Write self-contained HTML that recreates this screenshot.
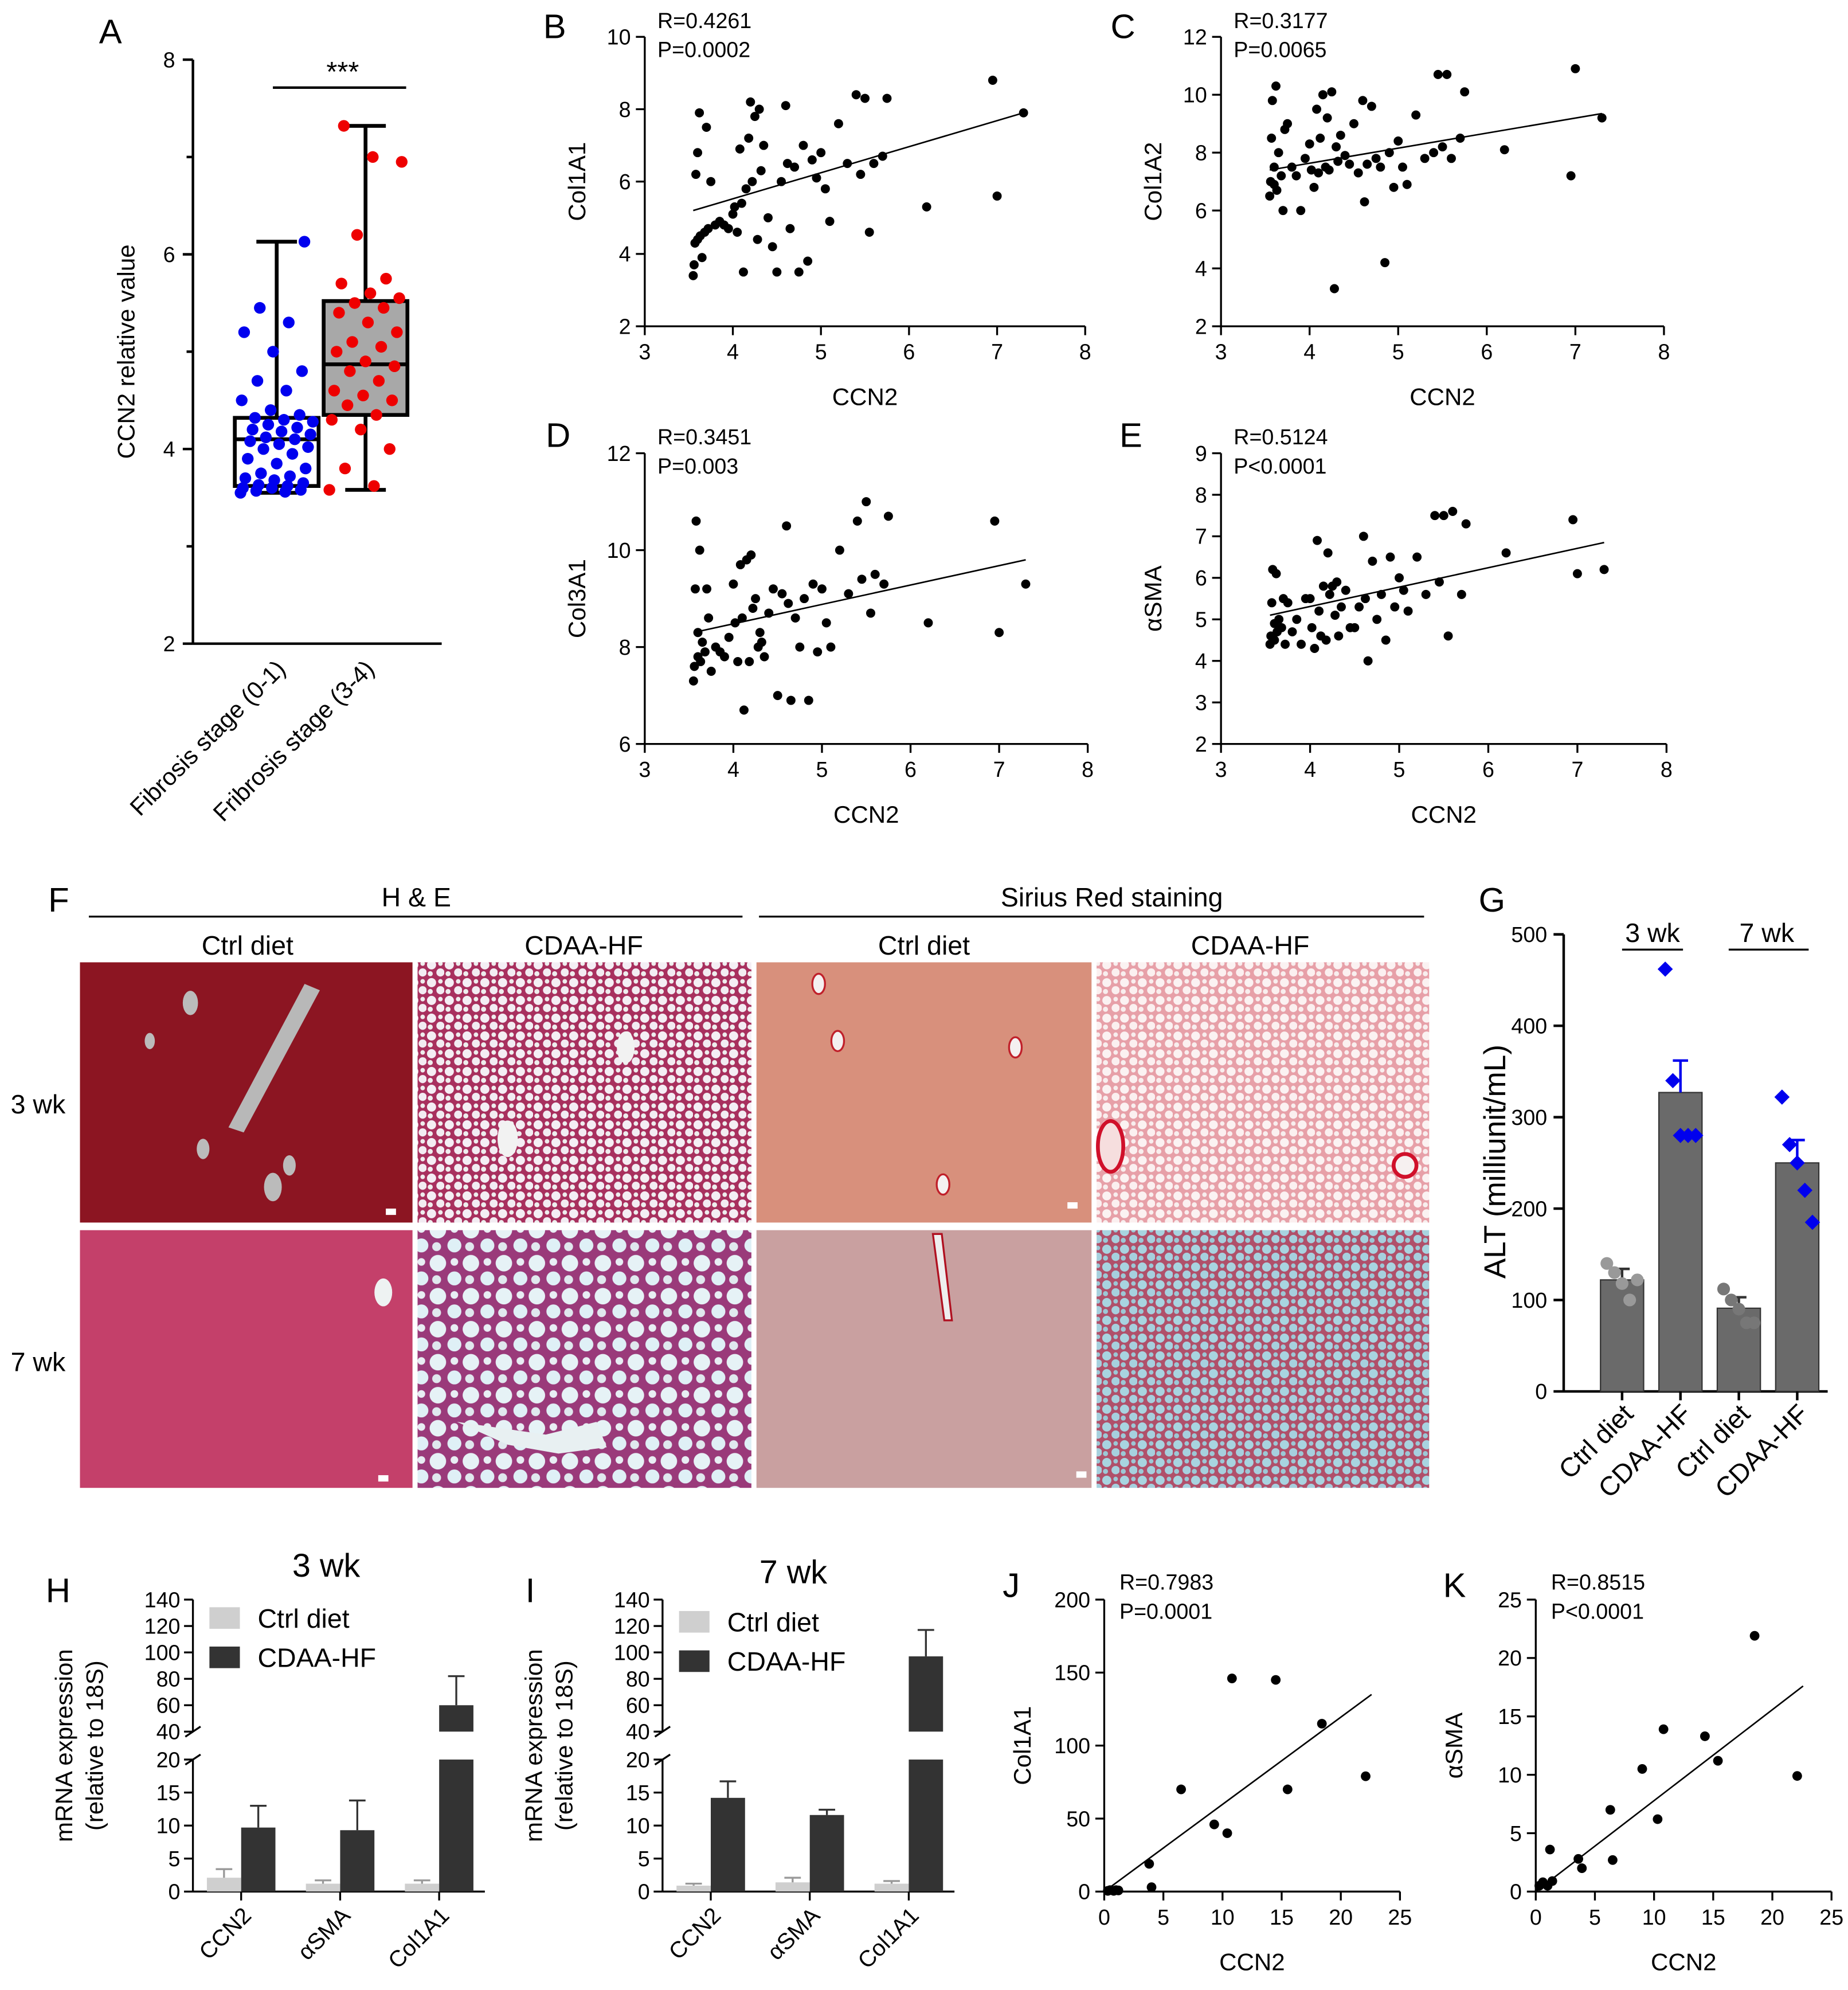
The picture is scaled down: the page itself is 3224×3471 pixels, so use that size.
<!DOCTYPE html>
<html><head><meta charset="utf-8"><style>
html,body{margin:0;padding:0;background:#fff}
svg{display:block;font-family:"Liberation Sans",Arial,sans-serif}
</style></head><body>
<svg id="fig" xmlns="http://www.w3.org/2000/svg" width="3224" height="3471" viewBox="0 0 1456 1567.5">
<defs>
<pattern id="fatA" width="14" height="14" patternUnits="userSpaceOnUse"><rect width="14" height="14" fill="#a8305e"/><circle cx="4" cy="4" r="3.6" fill="#f4eef4"/><circle cx="11" cy="10" r="3.2" fill="#f2ecf2"/><circle cx="11" cy="3" r="1.8" fill="#eee"/><circle cx="3" cy="11" r="2" fill="#eee"/></pattern>
<pattern id="fatB" width="14" height="14" patternUnits="userSpaceOnUse"><rect width="14" height="14" fill="#e7a0a8"/><circle cx="4" cy="4" r="3.5" fill="#fbf2f2"/><circle cx="11" cy="10" r="3.2" fill="#fbf0f0"/><circle cx="11" cy="3" r="1.8" fill="#f8eeee"/><circle cx="3" cy="11" r="2" fill="#f8eeee"/></pattern>
<pattern id="fatC" width="26" height="26" patternUnits="userSpaceOnUse"><rect width="26" height="26" fill="#9a3a7a"/><circle cx="7" cy="7" r="6.5" fill="#e6f2f6"/><circle cx="20" cy="19" r="5.5" fill="#dff0f6"/><circle cx="20" cy="6" r="3" fill="#e8eef4"/><circle cx="6" cy="20" r="3.5" fill="#e0e8ee"/></pattern>
<pattern id="fatD" width="14" height="14" patternUnits="userSpaceOnUse"><rect width="14" height="14" fill="#b0506a"/><circle cx="4" cy="4" r="3.6" fill="#a8d4e0"/><circle cx="11" cy="10" r="3.3" fill="#a6d0de"/><circle cx="11" cy="3" r="1.8" fill="#9cc8d6"/><circle cx="3" cy="11" r="2" fill="#9cc8d6"/></pattern>
</defs>
</svg>
<script>
// ---------- DATA ----------
const boxGroups = ["Fibrosis stage (0-1)", "Fribrosis stage (3-4)"];
const boxMin = [3.55, 3.58];
const boxQ1 = [3.62, 4.35];
const boxMed = [4.1, 4.87];
const boxQ3 = [4.32, 5.52];
const boxMax = [6.13, 7.32];
const boxPts1 = [3.55,3.56,3.57,3.58,3.6,3.6,3.62,3.63,3.65,3.68,3.7,3.72,3.75,3.8,3.85,3.9,3.95,4.0,4.02,4.05,4.08,4.1,4.12,4.15,4.18,4.2,4.22,4.25,4.28,4.3,4.32,4.35,4.4,4.5,4.6,4.7,4.8,5.0,5.2,5.3,5.45,6.13];
const boxPts2 = [3.58,3.62,3.8,4.0,4.2,4.3,4.35,4.45,4.5,4.55,4.6,4.7,4.8,4.85,4.9,5.0,5.05,5.1,5.2,5.3,5.4,5.45,5.5,5.55,5.6,5.7,5.75,6.2,6.95,7.0,7.32];
const ccn2 = [3.55,3.56,3.57,3.58,3.6,3.6,3.62,3.63,3.65,3.68,3.7,3.72,3.75,3.8,3.85,3.9,3.95,4.0,4.02,4.05,4.08,4.1,4.12,4.15,4.18,4.2,4.22,4.25,4.28,4.3,4.32,4.35,4.4,4.45,4.5,4.55,4.6,4.62,4.65,4.7,4.75,4.8,4.85,4.9,4.95,5.0,5.05,5.1,5.2,5.3,5.4,5.45,5.5,5.55,5.6,5.7,5.75,6.2,6.95,7.0,7.3];
const col1a1 = [3.4,3.7,4.3,6.2,4.4,6.8,7.9,4.5,3.9,4.6,7.5,4.7,6.0,4.8,4.9,4.8,4.7,5.1,5.3,4.6,6.9,5.4,3.5,5.8,7.2,8.2,6.0,7.8,4.4,8.0,6.3,7.0,5.0,4.2,3.5,6.0,8.1,6.5,4.7,6.4,3.5,7.0,3.8,6.6,6.1,6.8,5.8,4.9,7.6,6.5,8.4,6.2,8.3,4.6,6.5,6.7,8.3,5.3,8.8,5.6,7.9];
const col1a2 = [6.5,7.0,8.5,9.8,6.9,7.5,10.3,6.7,8.0,7.2,6.0,8.8,9.0,7.5,7.2,6.0,7.8,8.3,7.4,6.8,9.5,7.3,8.5,10.0,7.5,9.2,7.4,10.1,3.3,8.2,7.7,8.6,7.9,7.6,9.0,7.3,9.8,6.3,7.6,9.6,7.8,7.5,4.2,8.0,6.8,8.4,7.5,6.9,9.3,7.8,8.0,10.7,8.2,10.7,7.8,8.5,10.1,8.1,7.2,10.9,9.2];
const col3a1 = [7.3,7.6,9.2,10.6,8.3,7.8,10.0,7.7,8.1,7.9,9.2,8.6,7.5,8.0,7.9,7.8,8.2,9.3,8.5,7.7,9.7,8.6,6.7,9.8,7.7,9.9,8.8,9.0,8.0,8.3,8.1,7.8,8.7,9.2,7.0,9.1,10.5,8.9,6.9,8.6,8.0,9.0,6.9,9.3,7.9,9.2,8.5,8.0,10.0,9.1,10.6,9.4,11.0,8.7,9.5,9.3,10.7,8.5,10.6,8.3,9.3];
const asma = [4.4,4.6,5.4,6.2,4.5,4.9,6.1,4.7,5.0,4.8,5.5,4.4,5.4,4.7,5.0,4.4,5.5,5.5,4.8,4.3,6.9,5.2,4.6,5.8,4.5,6.6,5.6,5.8,5.1,5.9,4.6,5.3,5.7,4.8,4.8,5.3,7.0,5.5,4.0,6.4,5.0,5.6,4.5,6.5,5.3,6.0,5.7,5.2,6.5,5.6,7.5,5.9,7.5,4.6,7.6,5.6,7.3,6.6,7.4,6.1,6.2];
const fitB = [5.2, 7.9], fitC = [7.4, 9.35], fitD = [8.3, 9.8], fitE = [5.1, 6.85];
const altCats = ["Ctrl diet", "CDAA-HF", "Ctrl diet", "CDAA-HF"];
const altMean = [122, 327, 91, 250];
const altErr = [12, 35, 12, 25];
const altPts = [[140,130,118,100,122],[462,340,280,280,280],[112,100,90,75,75],[322,270,250,220,185]];
const mrnaGenes = ["CCN2", "αSMA", "Col1A1"];
const wk3Ctrl = [2.1, 1.2, 1.2], wk3CtrlErr = [1.3, 0.5, 0.5];
const wk3Cdaa = [9.7, 9.3, 60], wk3CdaaErr = [3.3, 4.5, 22];
const wk7Ctrl = [0.9, 1.4, 1.2], wk7CtrlErr = [0.3, 0.7, 0.4];
const wk7Cdaa = [14.2, 11.6, 97], wk7CdaaErr = [2.5, 0.8, 20];
const jX = [0.3,0.5,0.8,1.0,1.2,3.8,4.0,6.5,9.3,10.4,10.8,14.5,15.5,18.4,22.1];
const jY = [0.5,1,0.5,1,0.8,19,3,70,46,40,146,145,70,115,79];
const kX = [0.3,0.6,1.0,1.2,1.4,3.6,3.9,6.3,6.5,9.0,10.3,10.8,14.3,15.4,18.5,22.1];
const kY = [0.5,0.8,0.5,3.6,0.9,2.8,2.0,7.0,2.7,10.5,6.2,13.9,13.3,11.2,21.9,9.9];
const fitJ = [0, 135], fitK = [0, 17.6];

// ---------- helpers ----------
const svg = document.getElementById('fig');
const NS = 'http://www.w3.org/2000/svg';
function mk(tag, attrs, parent){const e=document.createElementNS(NS,tag);for(const k in attrs)e.setAttribute(k,attrs[k]);(parent||svg).appendChild(e);return e;}
function txt(x,y,s,size,anchor,parent,extra){const t=mk('text',Object.assign({x:x,y:y,'font-size':size,'text-anchor':anchor||'middle',fill:'#000'},extra||{}),parent);t.textContent=s;return t;}
function lin(x1,y1,x2,y2,w,parent,col){return mk('line',{x1:x1,y1:y1,x2:x2,y2:y2,stroke:col||'#000','stroke-width':w||1.5},parent);}
function letter(x,y,s){const t=txt(x,y,s,27,'start');}

// ---------- Panel A ----------
letter(78,34,'A');
const gA = mk('g',{});


const ayA = v => 507 - (v-2)*76.67;
lin(152,47,152,507,2,gA);
[2,4,6,8].forEach(v=>{lin(144,ayA(v),152,ayA(v),2,gA);txt(138,ayA(v)+6,String(v),17,'end',gA);});
[3,5,7].forEach(v=>lin(147,ayA(v),152,ayA(v),2,gA));
lin(152,507,348,507,2,gA);
const aTitle = txt(0,0,'CCN2 relative value',19,'middle',gA,{transform:'translate(106,277) rotate(-90)'});


const boxC = [218, 288], boxCol = ['#0000ee','#ee0000'], boxFill = ['#fff','#a8a8a8'];
const boxPts = [boxPts1, boxPts2];
for(let i=0;i<2;i++){
  const c=boxC[i];
  const bg=mk('g',{},gA);
  
  
  lin(c,ayA(boxMax[i]),c,ayA(boxQ3[i]),3,bg);
  lin(c,ayA(boxQ1[i]),c,ayA(boxMin[i]),3,bg);
  lin(c-16,ayA(boxMax[i]),c+16,ayA(boxMax[i]),3,bg);
  lin(c-16,ayA(boxMin[i]),c+16,ayA(boxMin[i]),3,bg);
  mk('rect',{x:c-33,y:ayA(boxQ3[i]),width:66,height:ayA(boxQ1[i])-ayA(boxQ3[i]),fill:boxFill[i],stroke:'#000','stroke-width':3},bg);
  lin(c-33,ayA(boxMed[i]),c+33,ayA(boxMed[i]),3,bg);
  boxPts[i].forEach((v,j)=>{const off=((j*37)%61-30)*0.95;mk('circle',{cx:c+off,cy:ayA(v),r:4.6,fill:boxCol[i]},bg);});
  const lb=txt(0,0,boxGroups[i],19,'end',gA,{transform:`translate(${c+8},${528}) rotate(-45)`});
  
  
}
lin(215,69,320,69,2,gA);
txt(270,64,'***',22,'middle',gA);

// ---------- Scatter B-E ----------
function scatter(name,L,x0,x1,yTop,yBot,ymin,ymax,ystep,xs,ys,fit,ylab,rTxt,pTxt){
  const g=mk('g',{});
  
  
  const X=v=>x0+(v-3)*(x1-x0)/5, Y=v=>yBot-(v-ymin)*(yBot-yTop)/(ymax-ymin);
  lin(x0,yTop,x0,yBot,1.5,g);lin(x0,yBot,x1,yBot,1.5,g);
  for(let v=ymin;v<=ymax+1e-9;v+=ystep){lin(x0-7,Y(v),x0,Y(v),1.5,g);txt(x0-11,Y(v)+6,String(v),17,'end',g);}
  for(let v=3;v<=8;v++){lin(X(v),yBot,X(v),yBot+7,1.5,g);txt(X(v),yBot+26,String(v),17,'middle',g);}
  const xt=txt((x0+x1)/2,yBot+62,'CCN2',19,'middle',g);
  
  
  const yt=txt(0,0,ylab,19,'middle',g,{transform:`translate(${x0-47},${(yTop+yBot)/2}) rotate(-90)`});
  
  
  const n=Math.min(xs.length,ys.length);
  for(let i=0;i<n;i++){const d=mk('circle',{cx:X(xs[i]),cy:Y(ys[i]),r:3.6,fill:'#000'},g);}
  const fl=lin(X(3.55),Y(fit[0]),X(7.3),Y(fit[1]),1.2,g);
  
  
  txt(x0+10,yTop-7,rTxt,17,'start',g);txt(x0+10,yTop+16,pTxt,17,'start',g);
}
letter(428,30,'B');letter(875,30,'C');letter(430,352,'D');letter(882,352,'E');
scatter('scatter-b-col1a1',0,508,855,29,257,2,10,2,ccn2,col1a1,fitB,'Col1A1','R=0.4261','P=0.0002');
scatter('scatter-c-col1a2',0,962,1311,29,257,2,12,2,ccn2,col1a2,fitC,'Col1A2','R=0.3177','P=0.0065');
scatter('scatter-d-col3a1',0,508,857,357,586,6,12,2,ccn2,col3a1,fitD,'Col3A1','R=0.3451','P=0.003');
scatter('scatter-e-asma',0,962,1313,357,586,2,9,1,ccn2,asma,fitE,'αSMA','R=0.5124','P<0.0001');

// ---------- Panel F histology ----------
letter(38,718,'F');
const gF=mk('g',{});


txt(328,714,'H & E',21,'middle',gF);lin(70,722,585,722,1.5,gF);
txt(876,714,'Sirius Red staining',21,'middle',gF);lin(598,722,1122,722,1.5,gF);
[['Ctrl diet',195],['CDAA-HF',460],['Ctrl diet',728],['CDAA-HF',985]].forEach(a=>txt(a[1],752,a[0],21,'middle',gF));
txt(30,877,'3 wk',21,'middle',gF);txt(30,1080,'7 wk',21,'middle',gF);
const cols=[[63,325],[329,592],[596,860],[864,1126]], rows=[[758,963],[969,1172]];
const fills=[['#8c1522','url(#fatA)','#d8907c','url(#fatB)'],['#c4406a','url(#fatC)','#c9a0a0','url(#fatD)']];
const names=[['he-ctrl-3wk','he-cdaa-3wk','sirius-ctrl-3wk','sirius-cdaa-3wk'],['he-ctrl-7wk','he-cdaa-7wk','sirius-ctrl-7wk','sirius-cdaa-7wk']];
for(let r=0;r<2;r++)for(let c=0;c<4;c++){
  const im=mk('rect',{x:cols[c][0],y:rows[r][0],width:cols[c][1]-cols[c][0],height:rows[r][1]-rows[r][0],fill:fills[r][c]},gF);
  
  
}
mk('path',{d:'M180 888 L240 775 L252 780 L192 892 Z',fill:'#b8b8b8'},gF);
[[160,905,5],[150,790,6],[215,935,7],[228,918,5],[118,820,4]].forEach(p=>mk('ellipse',{cx:p[0],cy:p[1],rx:p[2],ry:p[2]*1.6,fill:'#bbb'},gF));
[[493,825,7],[400,897,8]].forEach(p=>mk('ellipse',{cx:p[0],cy:p[1],rx:p[2],ry:p[2]*1.8,fill:'#f2f2f2'},gF));
[[645,775],[660,820],[800,825],[743,933]].forEach(p=>mk('ellipse',{cx:p[0],cy:p[1],rx:5,ry:8,fill:'#f4f0f0',stroke:'#c0202a','stroke-width':1.5},gF));
mk('ellipse',{cx:875,cy:903,rx:10,ry:20,fill:'#f6dede',stroke:'#d0102a','stroke-width':3},gF);
mk('circle',{cx:1107,cy:918,r:9,fill:'#f6f0f0',stroke:'#d0102a','stroke-width':3},gF);
mk('path',{d:'M735 972 L742 972 L750 1040 L744 1040 Z',fill:'#eee',stroke:'#b01020','stroke-width':1.5},gF);
mk('path',{d:'M360 1120 L430 1130 L470 1120 L478 1140 L440 1145 L400 1138 Z',fill:'#e8f0f2'},gF);
mk('ellipse',{cx:302,cy:1018,rx:7,ry:11,fill:'#eef2f2'},gF);
[[308,955],[845,950],[302,1165],[852,1162]].forEach(p=>mk('rect',{x:p[0]-4,y:p[1]-3,width:8,height:5,fill:'#fff'},gF));

// ---------- Panel G ----------
letter(1165,718,'G');
const gG=mk('g',{});


const YG=v=>1096-v*0.72;
lin(1232,736,1232,1096,2,gG);lin(1232,1096,1440,1096,2,gG);
for(let v=0;v<=500;v+=100){lin(1224,YG(v),1232,YG(v),2,gG);txt(1219,YG(v)+6,String(v),17,'end',gG);}
const gyt=txt(0,0,'ALT (milliunit/mL)',24,'middle',gG,{transform:'translate(1186,915) rotate(-90)'});


const gC=[1278,1324,1370,1416], ptCol=['#999','#0000ee','#777','#0000ee'];
for(let i=0;i<4;i++){
  const b=mk('rect',{x:gC[i]-17,y:YG(altMean[i]),width:34,height:YG(0)-YG(altMean[i]),fill:'#6a6a6a',stroke:'#333','stroke-width':1},gG);
  
  
  const ec=i%2?'#0000ee':'#333';
  lin(gC[i],YG(altMean[i]),gC[i],YG(altMean[i]+altErr[i]),2,gG,ec);
  lin(gC[i]-6,YG(altMean[i]+altErr[i]),gC[i]+6,YG(altMean[i]+altErr[i]),2,gG,ec);
  altPts[i].forEach((v,j)=>{const off=(j-2)*6;
    if(i%2){mk('path',{d:`M${gC[i]+off} ${YG(v)-6} l6 6 l-6 6 l-6 -6 Z`,fill:ptCol[i]},gG);}
    else mk('circle',{cx:gC[i]+off,cy:YG(v),r:5,fill:ptCol[i]},gG);});
  lin(gC[i],1096,gC[i],1103,2,gG);
  txt(0,0,altCats[i],21,'end',gG,{transform:`translate(${gC[i]+10},${1115}) rotate(-45)`});
}
txt(1302,742,'3 wk',21,'middle',gG);lin(1278,748,1326,748,1.5,gG);
txt(1392,742,'7 wk',21,'middle',gG);lin(1362,748,1425,748,1.5,gG);

// ---------- Panels H, I (broken axis bars) ----------
function brokenBars(name,ax,ctrl,ctrlE,cdaa,cdaaE,title,tx,ty,ltx,lty){
  const g=mk('g',{});
  
  
  const Y=v=> v<=20 ? 1490-v*5.2 : 1364-(v-40)*1.04;
  lin(ax,1490,ax,1386,1.5,g);lin(ax,1364,ax,1260,1.5,g);
  lin(ax-6,1390,ax+6,1382,1.5,g);lin(ax-6,1368,ax+6,1360,1.5,g);
  [0,5,10,15,20].forEach(v=>{lin(ax-7,Y(v),ax,Y(v),1.5,g);txt(ax-10,Y(v)+6,String(v),17,'end',g);});
  for(let v=40;v<=140;v+=20){lin(ax-7,Y(v),ax,Y(v),1.5,g);txt(ax-10,Y(v)+6,String(v),17,'end',g);}
  lin(ax,1490,ax+230,1490,1.5,g);
  const t=txt(tx,ty,title,26,'middle',g);
  
  
  for(let i=0;i<3;i++){
    const gx=ax+11+i*78;
    const draw=(x,v,e,col,ecol)=>{
      if(v<=20){mk('rect',{x:x,y:Y(v),width:27,height:1490-Y(v),fill:col},g);}
      else{mk('rect',{x:x,y:1386,width:27,height:104,fill:col},g);mk('rect',{x:x,y:Y(v),width:27,height:1364-Y(v),fill:col},g);}
      lin(x+13.5,Y(v),x+13.5,Y(v+e),1.5,g,ecol);lin(x+7,Y(v+e),x+20,Y(v+e),1.5,g,ecol);
    };
    draw(gx,ctrl[i],ctrlE[i],'#cfcfcf','#999');
    draw(gx+27,cdaa[i],cdaaE[i],'#333','#333');
    lin(gx+27,1490,gx+27,1497,1.5,g);
    txt(0,0,mrnaGenes[i],18,'end',g,{transform:`translate(${gx+36},${1510}) rotate(-45)`});
  }
  mk('rect',{x:ltx,y:lty,width:24,height:17,fill:'#cfcfcf'},g);
  txt(ltx+38,lty+16,'Ctrl diet',21,'start',g);
  mk('rect',{x:ltx,y:lty+31,width:24,height:17,fill:'#333'},g);
  txt(ltx+38,lty+47,'CDAA-HF',21,'start',g);
  const y1=txt(0,0,'mRNA expression',19,'middle',g,{transform:`translate(${ax-95},1375) rotate(-90)`});
  const y2=txt(0,0,'(relative to 18S)',19,'middle',g,{transform:`translate(${ax-71},1375) rotate(-90)`});
}
letter(36,1262,'H');letter(414,1262,'I');
brokenBars('panel-h-3wk-mrna',152,wk3Ctrl,wk3CtrlErr,wk3Cdaa,wk3CdaaErr,'3 wk',257,1242,165,1266);
brokenBars('panel-i-7wk-mrna',522,wk7Ctrl,wk7CtrlErr,wk7Cdaa,wk7CdaaErr,'7 wk',625,1247,535,1269);

// ---------- Panels J, K ----------
function scatter2(name,x0,x1,ymax,ystep,xs,ys,fit,ylab,rT,pT){
  const g=mk('g',{});
  
  
  const yTop=1260,yBot=1490;
  const X=v=>x0+v*(x1-x0)/25, Y=v=>yBot-v*(yBot-yTop)/ymax;
  lin(x0,yTop,x0,yBot,1.5,g);lin(x0,yBot,x1,yBot,1.5,g);
  for(let v=0;v<=ymax;v+=ystep){lin(x0-7,Y(v),x0,Y(v),1.5,g);txt(x0-11,Y(v)+6,String(v),17,'end',g);}
  for(let v=0;v<=25;v+=5){lin(X(v),yBot,X(v),yBot+7,1.5,g);txt(X(v),yBot+26,String(v),17,'middle',g);}
  txt((x0+x1)/2,yBot+62,'CCN2',19,'middle',g);
  txt(0,0,ylab,19,'middle',g,{transform:`translate(${x0-58},1375) rotate(-90)`});
  for(let i=0;i<Math.min(xs.length,ys.length);i++){const d=mk('circle',{cx:X(xs[i]),cy:Y(ys[i]),r:3.8,fill:'#000'},g);}
  const fl=lin(X(0),Y(fit[0]),X(22.6),Y(fit[1]),1.2,g);
  
  
  txt(x0+12,1252,rT,17,'start',g);txt(x0+12,1275,pT,17,'start',g);
}
letter(790,1258,'J');letter(1137,1258,'K');
scatter2('scatter-j-col1a1',870,1103,200,50,jX,jY,fitJ,'Col1A1','R=0.7983','P=0.0001');
scatter2('scatter-k-asma',1210,1443,25,5,kX,kY,fitK,'αSMA','R=0.8515','P<0.0001');
</script>
</body></html>
